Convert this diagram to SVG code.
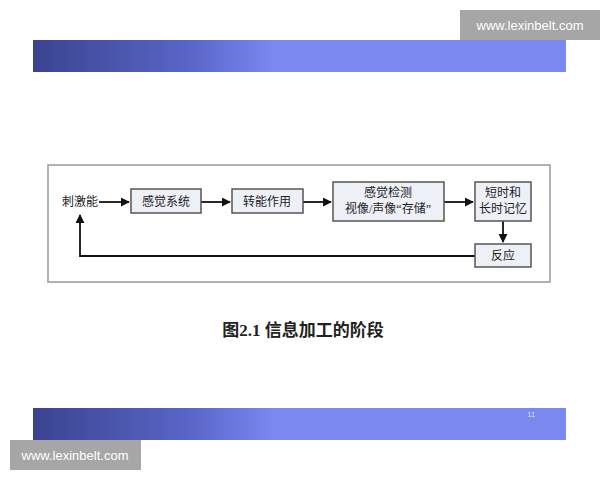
<svg xmlns="http://www.w3.org/2000/svg" width="600" height="480" viewBox="0 0 600 480">
<style>
.n{fill:#eef0f8;stroke:#555;stroke-width:1.5}
.t{font-family:"Liberation Serif","Noto Sans CJK SC",serif;font-size:12px;fill:#222;text-anchor:middle}
.c{stroke:#111;stroke-width:1.8;fill:none}
.w{font-family:"Liberation Sans",sans-serif;font-size:13px;fill:#fff}
</style>
<defs>
<marker id="a" viewBox="0 0 10 10" refX="9" refY="5" markerWidth="5" markerHeight="5" orient="auto"><path d="M0,0L10,5L0,10z" fill="#111"/></marker>
<linearGradient id="g" x1="0" x2="1"><stop offset="0" stop-color="#3a4490"/><stop offset="0.3" stop-color="#5a66c8"/><stop offset="0.45" stop-color="#7a88f0"/><stop offset="1" stop-color="#7a88f0"/></linearGradient>
</defs>
<rect width="600" height="480" fill="#fff"/>
<rect x="33" y="40" width="533" height="32" fill="url(#g)"/>
<rect x="33" y="408" width="533" height="32" fill="url(#g)"/>
<text x="527" y="417" font-family="Liberation Sans,sans-serif" font-size="8" fill="#dde">11</text>
<rect x="460" y="10" width="140" height="30" fill="#a6a6a6"/>
<text class="w" x="530" y="30" text-anchor="middle">www.lexinbelt.com</text>
<rect x="10" y="440" width="131" height="30" fill="#a6a6a6"/>
<text class="w" x="75" y="460" text-anchor="middle">www.lexinbelt.com</text>
<rect x="48" y="165" width="502" height="117" fill="#fff" stroke="#999" stroke-width="1.5"/>
<g id="connectors">
<path class="c" d="M99,202H129" marker-end="url(#a)"/>
<path class="c" d="M201,202H230" marker-end="url(#a)"/>
<path class="c" d="M303,202H331" marker-end="url(#a)"/>
<path class="c" d="M444,202H473" marker-end="url(#a)"/>
<path class="c" d="M503,221V242" marker-end="url(#a)"/>
<path class="c" d="M475,256H80V215" marker-end="url(#a)"/>
</g>
<g id="n0"><text class="t" x="80" y="206">刺激能</text></g>
<g id="n1"><rect class="n" x="131" y="189" width="70" height="24"/><text class="t" x="166" y="206">感觉系统</text></g>
<g id="n2"><rect class="n" x="232" y="189" width="71" height="24"/><text class="t" x="267" y="206">转能作用</text></g>
<g id="n3"><rect class="n" x="333" y="182" width="111" height="39"/><text class="t" x="388" y="197">感觉检测</text><text class="t" x="388" y="213">视像/声像“存储”</text></g>
<g id="n4"><rect class="n" x="475" y="182" width="56" height="39"/><text class="t" x="503" y="197">短时和</text><text class="t" x="503" y="213">长时记忆</text></g>
<g id="n5"><rect class="n" x="475" y="244" width="56" height="23"/><text class="t" x="503" y="260">反应</text></g>
<text x="303" y="336" font-family="Liberation Serif,Noto Sans CJK SC,serif" font-size="17" font-weight="bold" fill="#222" text-anchor="middle">图2.1  信息加工的阶段</text>
</svg>
